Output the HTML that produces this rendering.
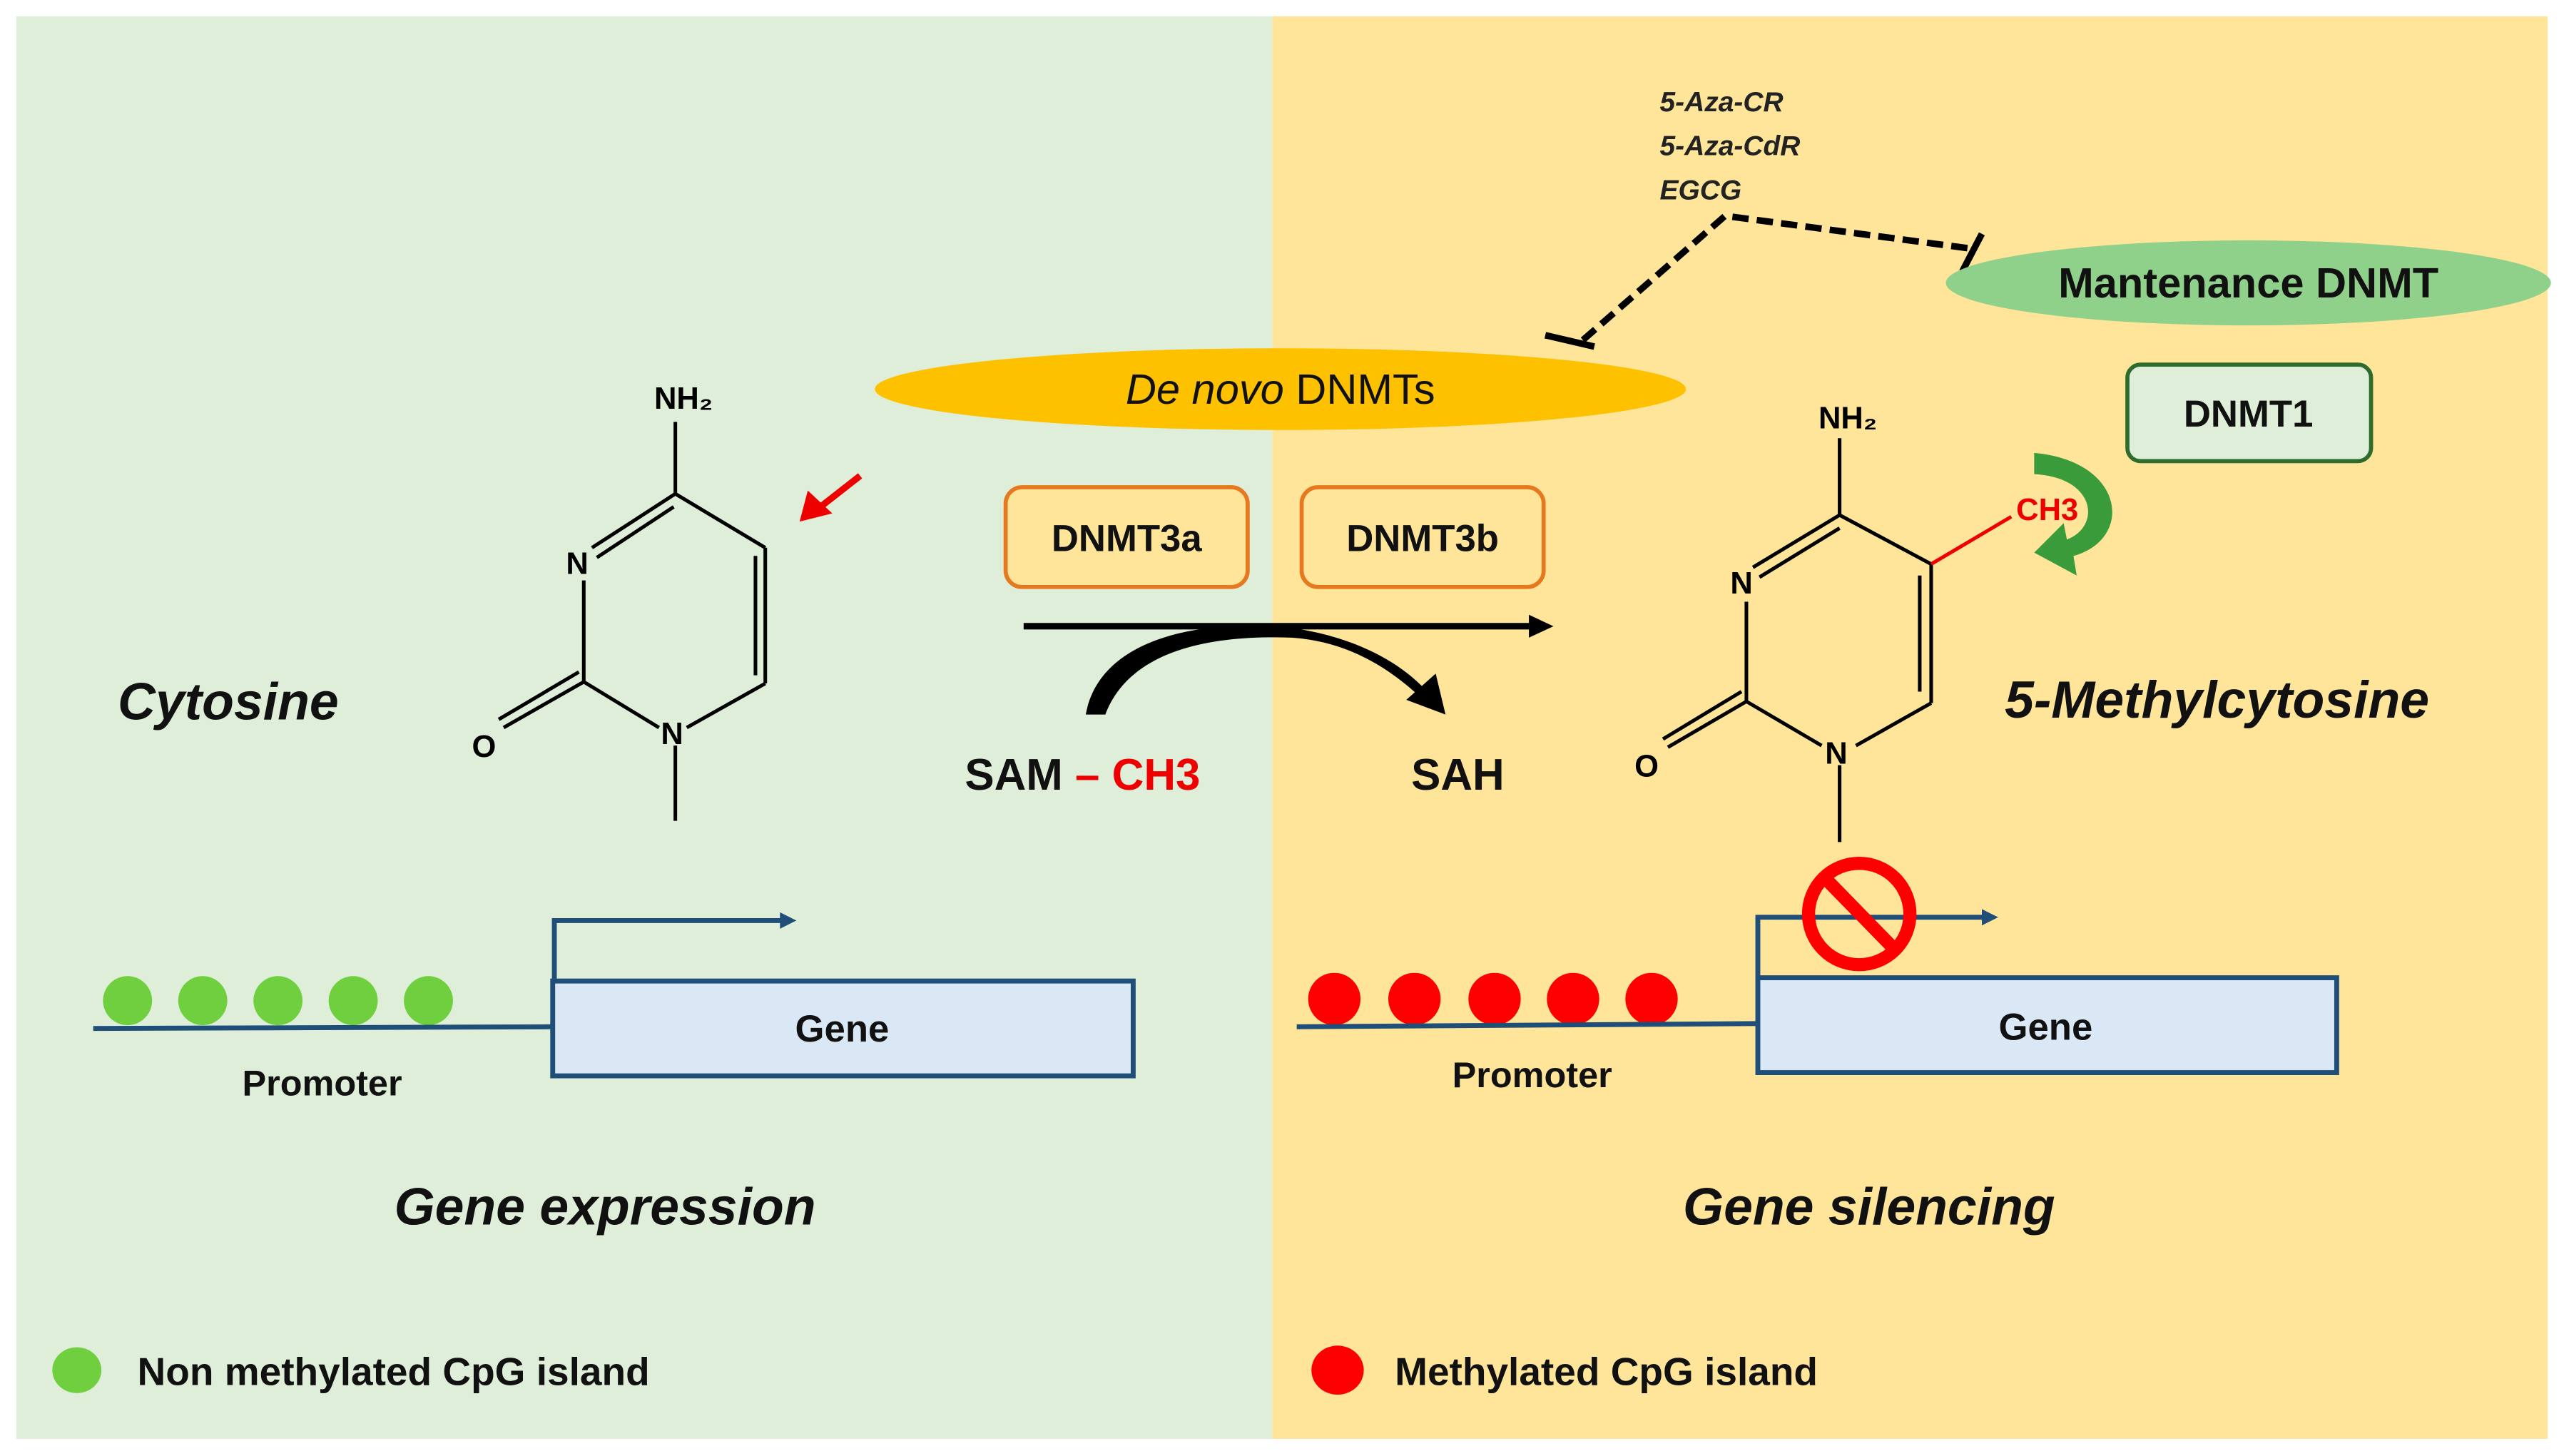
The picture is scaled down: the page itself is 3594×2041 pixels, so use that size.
<!DOCTYPE html>
<html><head><meta charset="utf-8"><style>
html,body{margin:0;padding:0;background:#fff;}
svg{display:block;}
text{font-family:"Liberation Sans",sans-serif;}
</style></head><body>
<svg width="3594" height="2041" viewBox="0 0 1568 890.5" preserveAspectRatio="none" xmlns="http://www.w3.org/2000/svg">
<rect x="0" y="0" width="1568" height="890.5" fill="#fff"/>
<rect x="10" y="10" width="768" height="870" fill="#deeed8"/>
<rect x="778" y="10" width="780" height="870" fill="#fee599"/>

<text x="1015" y="68" font-size="17" font-style="italic" font-weight="bold" fill="#222">5-Aza-CR</text>
<text x="1015" y="95" font-size="17" font-style="italic" font-weight="bold" fill="#222">5-Aza-CdR</text>
<text x="1015" y="122" font-size="17" font-style="italic" font-weight="bold" fill="#222">EGCG</text>
<polyline points="968,208 1055,132 1205,152" fill="none" stroke="#000" stroke-width="4" stroke-dasharray="10,5"/>
<line x1="945" y1="205" x2="975" y2="212" stroke="#000" stroke-width="4"/>
<line x1="1212" y1="143" x2="1200" y2="166" stroke="#000" stroke-width="4"/>

<ellipse cx="1375" cy="173" rx="185" ry="26" fill="#8fd18a"/>
<text x="1375" y="182" font-size="26" font-weight="bold" text-anchor="middle" fill="#111">Mantenance DNMT</text>
<ellipse cx="783" cy="238" rx="248" ry="25" fill="#fdc100"/>
<text x="783" y="247" font-size="26" text-anchor="middle" fill="#111"><tspan font-style="italic">De novo</tspan> DNMTs</text>

<rect x="1301" y="223" width="149" height="59" rx="8" fill="#deeed8" stroke="#2e6b2e" stroke-width="2.5"/>
<text x="1375" y="261" font-size="23" font-weight="bold" text-anchor="middle" fill="#111">DNMT1</text>
<rect x="615" y="298" width="148" height="61" rx="10" fill="#fee599" stroke="#e67820" stroke-width="2.5"/>
<text x="689" y="337" font-size="23" font-weight="bold" text-anchor="middle" fill="#111">DNMT3a</text>
<rect x="796" y="298" width="148" height="61" rx="10" fill="#fee599" stroke="#e67820" stroke-width="2.5"/>
<text x="870" y="337" font-size="23" font-weight="bold" text-anchor="middle" fill="#111">DNMT3b</text>

<line x1="626" y1="383" x2="935" y2="383" stroke="#000" stroke-width="4"/>
<path d="M935,376 L950,383 L935,390 Z" fill="#000"/>
<path d="M664,437 C672,392 730,378 790,384 C830,390 855,405 870,420 L866,424 C845,405 820,392 790,390 C735,388 690,400 676,437 Z" fill="#000"/>
<path d="M860,428 L884,437 L878,412 Z" fill="#000"/>
<text x="590" y="483" font-size="27" font-weight="bold" fill="#111">SAM <tspan fill="#e00">– CH3</tspan></text>
<text x="863" y="483" font-size="27" font-weight="bold" fill="#111">SAH</text>

<text x="72" y="440" font-size="32" font-weight="bold" font-style="italic" fill="#111">Cytosine</text>
<text x="1226" y="439" font-size="32" font-weight="bold" font-style="italic" fill="#111">5-Methylcytosine</text>

<g stroke="#000" stroke-width="2.2" fill="none">
<line x1="413" y1="258" x2="413" y2="302"/>
<line x1="413" y1="302" x2="468" y2="335"/>
<line x1="468" y1="335" x2="468" y2="418"/><line x1="462" y1="340" x2="462" y2="413"/>
<line x1="468" y1="418" x2="420" y2="445"/>
<line x1="403" y1="445" x2="357" y2="417"/>
<line x1="357" y1="417" x2="357" y2="355"/>
<line x1="362" y1="335" x2="413" y2="302"/><line x1="365" y1="341" x2="412" y2="310"/>
<line x1="357" y1="417" x2="308" y2="445"/><line x1="354" y1="411" x2="305" y2="440"/>
<line x1="413" y1="456" x2="413" y2="502"/>
</g>
<text x="418" y="250" font-size="19" font-weight="bold" text-anchor="middle">NH₂</text>
<text x="353" y="351" font-size="19" font-weight="bold" text-anchor="middle">N</text>
<text x="411" y="455" font-size="19" font-weight="bold" text-anchor="middle">N</text>
<text x="296" y="463" font-size="19" font-weight="bold" text-anchor="middle">O</text>
<line x1="526" y1="291" x2="503" y2="309" stroke="#e00" stroke-width="4"/>
<path d="M489,319 L494,300 L509,314 Z" fill="#e00"/>

<g stroke="#000" stroke-width="2.2" fill="none">
<line x1="1125" y1="268" x2="1125" y2="315"/>
<line x1="1125" y1="315" x2="1181" y2="345"/>
<line x1="1181" y1="345" x2="1181" y2="430"/><line x1="1174" y1="352" x2="1174" y2="423"/>
<line x1="1181" y1="430" x2="1135" y2="456"/>
<line x1="1114" y1="456" x2="1068" y2="429"/>
<line x1="1068" y1="429" x2="1068" y2="368"/>
<line x1="1072" y1="347" x2="1125" y2="315"/><line x1="1076" y1="353" x2="1125" y2="323"/>
<line x1="1068" y1="429" x2="1020" y2="457"/><line x1="1065" y1="423" x2="1017" y2="452"/>
<line x1="1125" y1="468" x2="1125" y2="515"/>
</g>
<line x1="1181" y1="345" x2="1230" y2="316" stroke="#e00" stroke-width="2.2"/>
<text x="1130" y="262" font-size="19" font-weight="bold" text-anchor="middle">NH₂</text>
<text x="1065" y="363" font-size="19" font-weight="bold" text-anchor="middle">N</text>
<text x="1123" y="467" font-size="19" font-weight="bold" text-anchor="middle">N</text>
<text x="1007" y="475" font-size="19" font-weight="bold" text-anchor="middle">O</text>
<text x="1233" y="318" font-size="19" font-weight="bold" fill="#e00">CH3</text>
<path d="M1244,277 C1300,282 1305,330 1268,340 L1270,352 L1244,338 L1262,320 L1264,330 C1285,322 1282,292 1244,290 Z" fill="#3a9b3a"/>

<circle cx="78" cy="612" r="15" fill="#6fcf3e"/><circle cx="124" cy="612" r="15" fill="#6fcf3e"/><circle cx="170" cy="612" r="15" fill="#6fcf3e"/><circle cx="216" cy="612" r="15" fill="#6fcf3e"/><circle cx="262" cy="612" r="15" fill="#6fcf3e"/>
<line x1="57" y1="629" x2="338" y2="628" stroke="#1f4e79" stroke-width="3"/>
<rect x="338" y="600" width="355" height="58" fill="#dae8f6" stroke="#1f4e79" stroke-width="3"/>
<text x="515" y="637" font-size="23" font-weight="bold" text-anchor="middle" fill="#111">Gene</text>
<polyline points="339,600 339,563 478,563" fill="none" stroke="#1f4e79" stroke-width="3"/>
<path d="M477,558 L487,563 L477,568 Z" fill="#1f4e79"/>
<text x="197" y="670" font-size="22" font-weight="bold" text-anchor="middle" fill="#111">Promoter</text>
<text x="370" y="749" font-size="32" font-weight="bold" font-style="italic" text-anchor="middle" fill="#111">Gene expression</text>

<circle cx="816" cy="611" r="16" fill="#f00"/><circle cx="865" cy="611" r="16" fill="#f00"/><circle cx="914" cy="611" r="16" fill="#f00"/><circle cx="962" cy="611" r="16" fill="#f00"/><circle cx="1010" cy="611" r="16" fill="#f00"/>
<line x1="793" y1="628" x2="1075" y2="626" stroke="#1f4e79" stroke-width="3"/>
<rect x="1075" y="598" width="354" height="58" fill="#dae8f6" stroke="#1f4e79" stroke-width="3"/>
<text x="1251" y="636" font-size="23" font-weight="bold" text-anchor="middle" fill="#111">Gene</text>
<polyline points="1075,598 1075,561 1213,561" fill="none" stroke="#1f4e79" stroke-width="3"/>
<path d="M1212,556 L1222,561 L1212,566 Z" fill="#1f4e79"/>
<circle cx="1137" cy="559" r="31" fill="none" stroke="#f00" stroke-width="8"/>
<line x1="1117" y1="538" x2="1158" y2="580" stroke="#f00" stroke-width="8"/>
<text x="937" y="665" font-size="22" font-weight="bold" text-anchor="middle" fill="#111">Promoter</text>
<text x="1143" y="749" font-size="32" font-weight="bold" font-style="italic" text-anchor="middle" fill="#111">Gene silencing</text>

<ellipse cx="47" cy="838" rx="15" ry="14" fill="#6fcf3e"/>
<text x="84" y="847" font-size="24" font-weight="bold" fill="#111">Non methylated CpG island</text>
<ellipse cx="818" cy="838" rx="16" ry="15" fill="#f00"/>
<text x="853" y="847" font-size="24" font-weight="bold" fill="#111">Methylated CpG island</text>
</svg>
</body></html>
